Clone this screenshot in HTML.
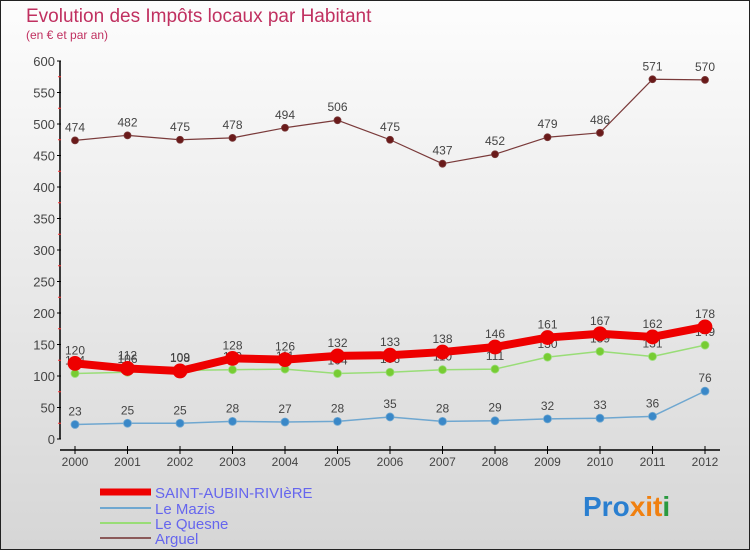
<!DOCTYPE html>
<html><head><meta charset="utf-8"><style>
body{margin:0;width:750px;height:550px;overflow:hidden;font-family:"Liberation Sans",sans-serif}
#c{position:absolute;left:0;top:0;width:748px;height:548px;border:1px solid #222;background:linear-gradient(#fdfdfd,#d6d6d6)}
</style></head><body>
<div id="c">
<svg width="748" height="548" viewBox="1 1 748 548" xmlns="http://www.w3.org/2000/svg">
<text x="26" y="22" font-size="19" fill="#c03060">Evolution des Impôts locaux par Habitant</text>
<text x="26" y="39" font-size="12" fill="#c03060">(en € et par an)</text>
<g id="axes"></g><g id="series"></g>
<g>
<line x1="100" y1="492" x2="151" y2="492" stroke="#e00" stroke-width="7"/>
<text x="155" y="498" font-size="15" fill="#6666ee">SAINT-AUBIN-RIVIèRE</text>
<line x1="100" y1="508" x2="151" y2="508" stroke="#6fa7d0" stroke-width="2"/>
<text x="155" y="514" font-size="15" fill="#6666ee">Le Mazis</text>
<line x1="100" y1="523" x2="151" y2="523" stroke="#99dd77" stroke-width="2"/>
<text x="155" y="529" font-size="15" fill="#6666ee">Le Quesne</text>
<line x1="100" y1="538" x2="151" y2="538" stroke="#8b5a5a" stroke-width="2"/>
<text x="155" y="544" font-size="15" fill="#6666ee">Arguel</text>
</g>
<text x="583" y="516" font-size="28" font-weight="bold"><tspan fill="#2a7fd0">Pro</tspan><tspan fill="#f08010">x</tspan><tspan fill="#f08010">i</tspan><tspan fill="#f08010">t</tspan><tspan fill="#2a9a40">i</tspan></text>
</svg></div>
<script>
const years=[2000,2001,2002,2003,2004,2005,2006,2007,2008,2009,2010,2011,2012];
const saint=[120,112,108,128,126,132,133,138,146,161,167,162,178];
const mazis=[23,25,25,28,27,28,35,28,29,32,33,36,76];
const quesne=[104,106,109,110,111,104,106,110,111,130,139,131,149];
const arguel=[474,482,475,478,494,506,475,437,452,479,486,571,570];
const yTicks=[0,50,100,150,200,250,300,350,400,450,500,550,600];
const NS="http://www.w3.org/2000/svg";
const X=i=>75+i*52.5, Y=v=>439-v*0.63;
function mk(tag,attrs,parent,txt){const e=document.createElementNS(NS,tag);for(const k in attrs)e.setAttribute(k,attrs[k]);if(txt!==undefined)e.textContent=txt;parent.appendChild(e);return e;}
const ax=document.getElementById('axes');
const yl=mk('line',{x1:60,y1:Y(600),x2:60,y2:Y(0),stroke:'#000','stroke-width':1.5},ax);


yTicks.forEach(t=>{
 mk('line',{x1:57,y1:Y(t),x2:61,y2:Y(t),stroke:'#000'},ax);
 if(t<600) mk('line',{x1:58,y1:Y(t+25),x2:61,y2:Y(t+25),stroke:'#f33'},ax);
 const tx=mk('text',{x:55,y:Y(t)+5,'font-size':13,fill:'#444','text-anchor':'end'},ax,t);
 
 
});
const xl=mk('line',{x1:60,y1:450,x2:720,y2:450,stroke:'#000','stroke-width':1.5},ax);


years.forEach((y,i)=>{
 mk('line',{x1:X(i),y1:446,x2:X(i),y2:454,stroke:'#000'},ax);
 const tx=mk('text',{x:X(i),y:466,'font-size':12,fill:'#444','text-anchor':'middle'},ax,y);
 
 
});
const sg=document.getElementById('series');
function series(vals,name,color,w,r,dot){
 const g=mk('g',{},sg);
 
 
 mk('polyline',{points:vals.map((v,i)=>X(i)+','+Y(v)).join(' '),fill:'none',stroke:color,'stroke-width':w,'stroke-linejoin':'round'},g);
 vals.forEach((v,i)=>{
  const c=mk('circle',{cx:X(i),cy:Y(v),r:r,fill:dot,stroke:color,'stroke-width':0.8},g);
  
  
  const t=mk('text',{x:X(i),y:Y(v)-9,'font-size':12,fill:'#444','text-anchor':'middle'},g,v);
  
  
 });
}
series(arguel,'arguel','#7a3a3a',1.2,3.5,'#6a1a1a');
series(mazis,'le-mazis','#6fa7d0',1.5,4,'#3a88c8');
series(quesne,'le-quesne','#99dd77',1.5,4,'#77cc33');
series(saint,'saint-aubin','#ee0000',8,7,'#ee0000');
</script>
</body></html>
